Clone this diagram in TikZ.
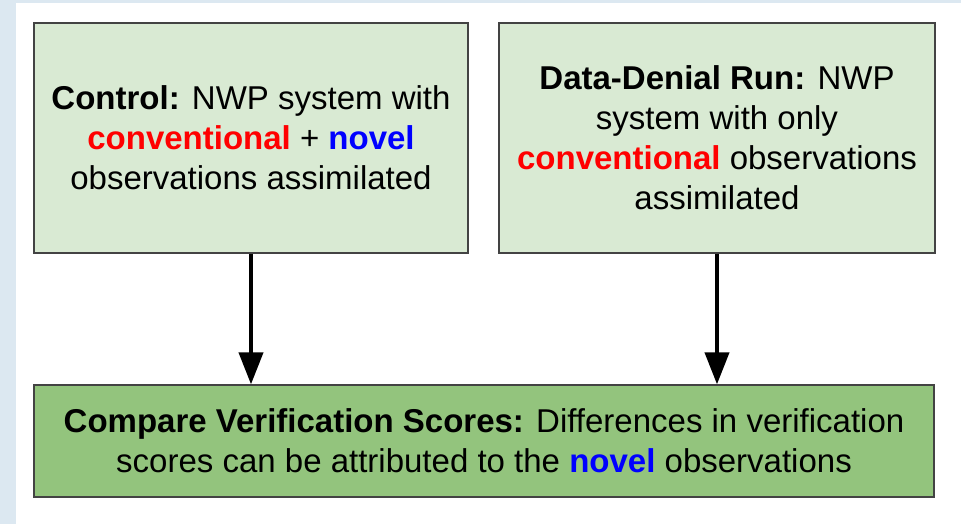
\documentclass[tikz,border=0pt]{standalone}
\usepackage{fontspec}
\setmainfont{Liberation Sans}
\usepackage{tikz}
\usetikzlibrary{arrows.meta}

\definecolor{paleGreen}{HTML}{D9EAD3}
\definecolor{midGreen}{HTML}{93C47D}
\definecolor{edgeGray}{HTML}{434343}
\definecolor{skyTint}{HTML}{DCE8F1}
\definecolor{convRed}{HTML}{FF0000}
\definecolor{novBlue}{HTML}{0000FF}

\newcommand{\conv}{\textcolor{convRed}{\textbf{conventional}}}
\newcommand{\nov}{\textcolor{novBlue}{\textbf{novel}}}

\begin{document}
\begin{tikzpicture}[x=1pt, y=-1pt,
    runbox/.style={rectangle, draw=edgeGray, line width=1.3pt, fill=paleGreen,
        inner sep=0pt, align=center, font=\fontsize{33}{40}\selectfont},
    scorebox/.style={runbox, fill=midGreen},
    flow/.style={-{Triangle[width=24pt, length=32pt]}, line width=4pt, black}]
			% Background
			\fill[skyTint] (0,0) rectangle (961,524);
			\fill[white] (16,3) rectangle (961,524);
			\useasboundingbox (0,0) rectangle (961,524);

			% Nodes
			\node[runbox, minimum width=434pt, minimum height=230pt] (control) at (251,138)
				{\textbf{Control:} NWP system with\\ \conv{} + \nov\\ observations assimilated};
			\node[runbox, minimum width=436pt, minimum height=230pt] (denial) at (717,138)
				{\textbf{Data-Denial Run:} NWP\\ system with only\\ \conv{} observations\\ assimilated};
			\node[scorebox, minimum width=900pt, minimum height=112pt] (scores) at (484,441)
				{\textbf{Compare Verification Scores:} Differences in verification\\ scores can be attributed to the \nov{} observations};

			% Edges
			\draw[flow] (control.south) -- (control.south |- scores.north);
			\draw[flow] (denial.south) -- (denial.south |- scores.north);
		\end{tikzpicture}
\end{document}
